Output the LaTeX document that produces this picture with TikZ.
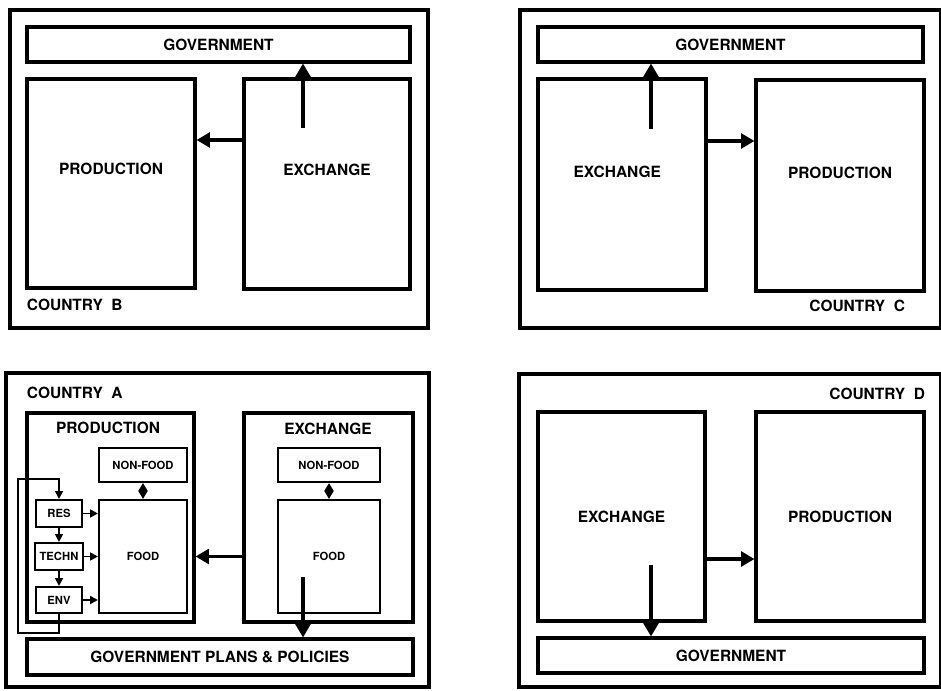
\documentclass[tikz,border=0pt]{standalone}
\usepackage{fontspec}
\setmainfont{TeX Gyre Heros}
\usetikzlibrary{
  arrows.meta,
  positioning,
  calc,
}

\begin{document}
\begin{tikzpicture}[
  font=\bfseries,
  every node/.style={align=center},
  frame/.style={draw, line width=2.6pt},
  box/.style={draw, line width=2.2pt, inner sep=0pt, font=\fontsize{11}{13}\selectfont\bfseries},
  sbox/.style={draw, line width=1.5pt, inner sep=0pt, font=\fontsize{8}{9}\selectfont\bfseries},
  lbl/.style={font=\fontsize{11}{13}\selectfont\bfseries},
  arrow/.style={-{Triangle[length=9.5pt,width=10.5pt]}, line width=2.2pt},
  sarrow/.style={-{Triangle[length=5.5pt,width=5.5pt]}, line width=1.4pt},
  twoway/.style={{Triangle[length=5.8pt,width=6.5pt]}-{Triangle[length=5.8pt,width=6.5pt]}, line width=1.4pt},
]

\useasboundingbox (0,0) rectangle (23.525,17.25);

%% Country B
\draw[frame] (0.25,9.05) rectangle (10.7,17.0);
\node[box, minimum width=9.575cm, minimum height=0.875cm] (govB) at (5.4625,16.1375) {GOVERNMENT};
\node[box, minimum width=4.2cm, minimum height=5.225cm] (prodB) at (2.775,12.6625) {};
\node[box, minimum width=4.15cm, minimum height=5.25cm] (exchB) at (8.175,12.65) {};
\node[lbl] (prodBt) at ([yshift=0.36cm]prodB.center) {PRODUCTION};
\node[lbl] (exchBt) at ([yshift=0.35cm]exchB.center) {EXCHANGE};
\node[lbl, anchor=west] (ctryB) at (0.55,9.625) {COUNTRY\ \ B};
\coordinate (upB) at (7.575,14.05);
\draw[arrow] (upB) -- (upB |- govB.south);
\draw[arrow] ([yshift=1.1cm]exchB.west) -- ([yshift=1.1cm]exchB.west -| prodB.east);

%% Country C
\draw[frame] (13.0,9.05) rectangle (23.51,17.0);
\node[box, minimum width=9.625cm, minimum height=0.875cm] (govC) at (18.2625,16.1375) {GOVERNMENT};
\node[box, minimum width=4.2cm, minimum height=5.275cm] (exchC) at (15.55,12.6375) {};
\node[box, minimum width=4.2cm, minimum height=5.275cm] (prodC) at (21.0,12.6125) {};
\node[lbl] (exchCt) at ([xshift=-0.12cm,yshift=0.31cm]exchC.center) {EXCHANGE};
\node[lbl] (prodCt) at ([yshift=0.31cm]prodC.center) {PRODUCTION};
\node[lbl, anchor=east] (ctryC) at (22.75,9.6) {COUNTRY\ \ C};
\coordinate (upC) at (16.275,14.025);
\draw[arrow] (upC) -- (upC |- govC.south);
\draw[arrow] ([yshift=1.0875cm]exchC.east) -- ([yshift=1.0875cm]exchC.east -| prodC.west);

%% Country A
\draw[frame] (0.15,0.075) rectangle (10.725,7.925);
\node[lbl, anchor=west] (ctryA) at (0.55,7.425) {COUNTRY\ \ A};
\node[box, minimum width=4.175cm, minimum height=5.225cm] (prodA) at (2.7625,4.3125) {};
\node[box, minimum width=4.225cm, minimum height=5.225cm] (exchA) at (8.2125,4.3125) {};
\node[lbl] (prodAt) at (2.7,6.55) {PRODUCTION};
\node[lbl] (exchAt) at (8.2,6.525) {EXCHANGE};
\node[sbox, minimum width=2.2cm, minimum height=0.85cm] (pnfA) at (3.575,5.625) {NON-FOOD};
\node[sbox, minimum width=2.2cm, minimum height=2.825cm] (pfoodA) at (3.575,3.3375) {FOOD};
\node[sbox, minimum width=2.55cm, minimum height=0.85cm] (enfA) at (8.225,5.625) {NON-FOOD};
\node[sbox, minimum width=2.55cm, minimum height=2.825cm] (efoodA) at (8.225,3.3375) {FOOD};
\node[sbox, minimum width=1.15cm, minimum height=0.675cm] (res) at (1.475,4.4125) {RES};
\node[sbox, minimum width=1.2cm, minimum height=0.675cm] (techn) at (1.475,3.3375) {TECHN};
\node[sbox, minimum width=1.15cm, minimum height=0.65cm] (env) at (1.475,2.25) {ENV};
\node[box, minimum width=9.65cm, minimum height=0.9cm] (govA) at (5.5,0.825) {GOVERNMENT PLANS \& POLICIES};

\draw[twoway] (pnfA) -- (pfoodA);
\draw[twoway] (enfA) -- (efoodA);
\draw[sarrow] (res) -- (techn);
\draw[sarrow] (techn) -- (env);
\foreach \n in {res,techn,env}{
  \draw[sarrow] (\n) -- (\n -| pfoodA.west);
}
\coordinate (loopA) at (0.45,5.275);
\draw[sarrow] (env.south) -- ++(0,-0.475) -| (loopA) -| (res.north);
\draw[arrow] (exchA.west |- pfoodA) -- (pfoodA -| prodA.east);
\coordinate (dnA) at (7.575,2.825);
\draw[arrow] (dnA) -- (dnA |- govA.north);

%% Country D
\draw[frame] (12.975,0.075) rectangle (23.51,7.9);
\node[lbl, anchor=east] (ctryD) at (23.25,7.4) {COUNTRY\ \ D};
\node[box, minimum width=4.175cm, minimum height=5.225cm] (exchD) at (15.5375,4.3375) {EXCHANGE};
\node[box, minimum width=4.2cm, minimum height=5.225cm] (prodD) at (21.0,4.3375) {PRODUCTION};
\node[box, minimum width=9.65cm, minimum height=0.875cm] (govD) at (18.275,0.8625) {GOVERNMENT};
\draw[arrow] ([yshift=-1.0625cm]exchD.east) -- ([yshift=-1.0625cm]exchD.east -| prodD.west);
\coordinate (dnD) at (16.275,3.125);
\draw[arrow] (dnD) -- (dnD |- govD.north);

\end{tikzpicture}
\end{document}
